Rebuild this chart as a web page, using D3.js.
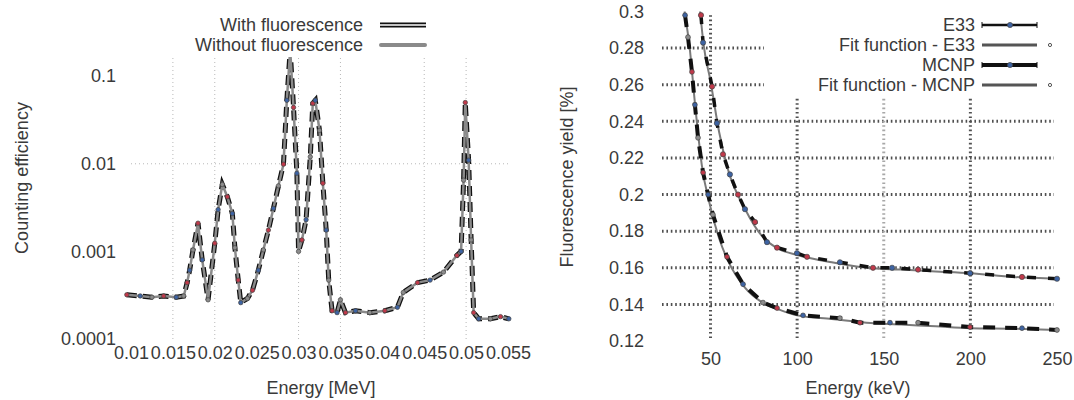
<!DOCTYPE html>
<html>
<head>
<meta charset="utf-8">
<script src="https://cdn.jsdelivr.net/npm/d3@7"></script>
<style>
body { margin: 0; background: #fff; }
svg text { font-family: "Liberation Sans", Arial, sans-serif; fill: #3a3a3a; }
</style>
</head>
<body>
<svg id="vis" width="1074" height="400"></svg>
<script>
// ---- left panel: counting efficiency vs energy (log y)
const energyMeV = [0.0095, 0.0111, 0.0125, 0.0139, 0.0154, 0.0163, 0.0167, 0.0170, 0.0174, 0.0180,
    0.0185, 0.0192, 0.0200, 0.0204, 0.0209, 0.0215, 0.0221, 0.0224, 0.0228, 0.0231,
    0.0239, 0.0245, 0.0252, 0.0258, 0.0264, 0.0270, 0.0276, 0.0282, 0.0286, 0.0290,
    0.0294, 0.0298, 0.0300, 0.0304, 0.0309, 0.0314, 0.0317, 0.0320, 0.0325, 0.0329,
    0.0333, 0.0336, 0.0340, 0.0346, 0.0350, 0.0356, 0.0368, 0.0385, 0.0403, 0.0418,
    0.0425, 0.0442, 0.0457, 0.0473, 0.0489, 0.0494, 0.0497, 0.0499, 0.0503, 0.0506,
    0.0509, 0.0515, 0.0529, 0.0541, 0.0551];
const withFluo = [0.00032, 0.00031, 0.00030, 0.00031, 0.00030, 0.00031, 0.00044, 0.00061, 0.00104, 0.0021,
    0.0008, 0.00028, 0.00124, 0.0030, 0.0058, 0.0042, 0.0027, 0.0011, 0.00047, 0.00026,
    0.00029, 0.00036, 0.00061, 0.00104, 0.00175, 0.0031, 0.0056, 0.0099, 0.053, 0.2,
    0.044, 0.0078, 0.001, 0.00135, 0.0023, 0.012, 0.049, 0.053, 0.024, 0.006,
    0.00175, 0.00047, 0.00021, 0.0002, 0.00028, 0.0002, 0.00021, 0.0002, 0.00021, 0.00023,
    0.00034, 0.00044, 0.00047, 0.00058, 0.0009, 0.001, 0.0065, 0.05, 0.011, 0.00135,
    0.0002, 0.00017, 0.00017, 0.00018, 0.00017];
const withoutFluo = [0.00032, 0.00031, 0.00030, 0.00031, 0.00030, 0.00031, 0.00044, 0.00061, 0.00104, 0.0021,
    0.0008, 0.00028, 0.00124, 0.0030, 0.0058, 0.0042, 0.0027, 0.0011, 0.00047, 0.00026,
    0.00029, 0.00036, 0.00061, 0.00104, 0.00175, 0.0031, 0.0056, 0.0099, 0.053, 0.2,
    0.044, 0.0078, 0.001, 0.00135, 0.0023, 0.012, 0.049, 0.053, 0.024, 0.006,
    0.00175, 0.00047, 0.00021, 0.0002, 0.00028, 0.0002, 0.00021, 0.0002, 0.00021, 0.00023,
    0.00034, 0.00044, 0.00047, 0.00058, 0.0009, 0.001, 0.0065, 0.05, 0.011, 0.00135,
    0.0002, 0.00017, 0.00017, 0.00018, 0.00017];
const leftXTicks = [0.01, 0.015, 0.02, 0.025, 0.03, 0.035, 0.04, 0.045, 0.05, 0.055];
const leftXGrid = [0.015, 0.02, 0.03, 0.035, 0.045, 0.05];
const leftYTicks = [0.0001, 0.001, 0.01, 0.1];
const leftYGrid = [0.01];
const leftSeries = ["With fluorescence", "Without fluorescence"];

// ---- right panel: fluorescence yield vs energy
const e33Energy = [44.5, 45.7, 50.9, 53.7, 57.2, 61.2, 65.9, 69.9, 75.7, 82.6,
    88.4, 99.9, 105.7, 124.7, 143.8, 154.8, 169.8, 199.8, 229.8, 250];
const e33Yield = [0.298, 0.283, 0.259, 0.239, 0.222, 0.211, 0.200, 0.192, 0.185, 0.174,
    0.171, 0.168, 0.166, 0.163, 0.160, 0.160, 0.159, 0.157, 0.155, 0.154];
const e33FitEnergy = [44, 46, 50, 55, 60, 70, 80, 90, 100, 120, 140, 160, 180, 200, 225, 250];
const e33FitYield = [0.300, 0.282, 0.262, 0.234, 0.214, 0.192, 0.177, 0.170, 0.167, 0.163,
    0.160, 0.159, 0.158, 0.157, 0.155, 0.154];
const mcnpEnergy = [35.3, 37, 39.3, 41, 42.8, 45.7, 48.6, 51.4, 59.5, 68.8,
    80.3, 88.4, 103.4, 124.7, 136.3, 153.6, 169.8, 199.8, 229.8, 250];
const mcnpYield = [0.298, 0.286, 0.267, 0.249, 0.231, 0.212, 0.200, 0.189, 0.166, 0.151,
    0.141, 0.138, 0.134, 0.1325, 0.130, 0.130, 0.130, 0.1276, 0.127, 0.126];
const mcnpFitEnergy = [35, 38, 41, 45, 50, 55, 60, 70, 80, 90, 100, 120, 140, 160, 180, 200, 225, 250];
const mcnpFitYield = [0.300, 0.280, 0.250, 0.216, 0.193, 0.176, 0.164, 0.149, 0.141, 0.137,
    0.134, 0.132, 0.130, 0.129, 0.128, 0.127, 0.1267, 0.126];
const rightXTicks = [50, 100, 150, 200, 250];
const rightXGrid = [50, 100, 150, 200];
const rightYTicks = [0.12, 0.14, 0.16, 0.18, 0.2, 0.22, 0.24, 0.26, 0.28, 0.3];
const rightYGrid = [0.14, 0.16, 0.18, 0.2, 0.22, 0.24, 0.26, 0.28];
const rightSeries = ["E33", "Fit function - E33", "MCNP", "Fit function - MCNP"];

const markerColors = ["#c0394a", "#3d63a3", "#8c8c8c"];
const fontSize = "18px";

var svg = d3.select("svg#vis");

function translate(x, y) {
    return "translate(" + String(x) + "," + String(y) + ")";
}

function zip(xs, ys) {
    return xs.map((x, i) => ({x: x, y: ys[i]}));
}

// ================= left chart =================
var xL = d3.scaleLinear().domain([0.01, 0.055]).range([131, 508]);
var yL = d3.scaleLog().domain([0.0001, 0.54]).range([339, 12]);

var gl = svg.append("g").attr("id", "left");

// grid
gl.selectAll("line.vgrid")
    .data(leftXGrid)
    .enter().append("line")
    .attr("x1", d => xL(d)).attr("x2", d => xL(d))
    .attr("y1", yL(0.0001)).attr("y2", 57)
    .attr("stroke", "#b8b8b8").attr("stroke-width", 1)
    .attr("stroke-dasharray", "1,3");
gl.selectAll("line.hgrid")
    .data(leftYGrid)
    .enter().append("line")
    .attr("x1", xL(0.01)).attr("x2", xL(0.055))
    .attr("y1", d => yL(d)).attr("y2", d => yL(d))
    .attr("stroke", "#b8b8b8").attr("stroke-width", 1)
    .attr("stroke-dasharray", "1,3");

// axes (labels only)
var xAxisL = d3.axisBottom(xL).tickValues(leftXTicks).tickFormat(d => String(+d.toFixed(3)))
    .tickSize(0).tickPadding(7);
gl.append("g").attr("transform", translate(0, 339)).call(xAxisL);
var yAxisL = d3.axisLeft(yL).tickValues(leftYTicks).tickFormat(d => String(d))
    .tickSize(0).tickPadding(15);
gl.append("g").attr("transform", translate(131, 0)).call(yAxisL);

// data lines
var lineL = d3.line().x(d => xL(d.x)).y(d => yL(d.y));
gl.append("path")
    .datum(zip(energyMeV, withFluo))
    .attr("d", lineL)
    .attr("fill", "none").attr("stroke", "#111").attr("stroke-width", 5)
    .attr("stroke-dasharray", "10,6");
gl.append("path")
    .datum(zip(energyMeV, withoutFluo))
    .attr("d", lineL)
    .attr("fill", "none").attr("stroke", "#8a8a8a").attr("stroke-width", 2.5);
gl.selectAll("circle.pt")
    .data(zip(energyMeV, withoutFluo))
    .enter().append("circle")
    .attr("cx", d => xL(d.x)).attr("cy", d => yL(d.y))
    .attr("r", 2.2)
    .attr("fill", (d, i) => markerColors[i % 3])
    .attr("stroke", "#444").attr("stroke-width", 0.7);

// legend
var legL = gl.append("g").attr("id", "left-legend");
legL.append("rect").attr("x", 175).attr("y", 13).attr("width", 262).attr("height", 44).attr("fill", "#fff");
legL.selectAll("text")
    .data(leftSeries)
    .enter().append("text")
    .attr("x", 363).attr("y", (d, i) => 25 + i * 20)
    .attr("dy", "0.35em")
    .attr("text-anchor", "end")
    .style("font-size", fontSize)
    .text(d => d);
legL.append("line").attr("x1", 380).attr("x2", 426).attr("y1", 25).attr("y2", 25)
    .attr("stroke", "#111").attr("stroke-width", 5);
legL.append("line").attr("x1", 380).attr("x2", 426).attr("y1", 25).attr("y2", 25)
    .attr("stroke", "#fff").attr("stroke-width", 1.4);
legL.append("line").attr("x1", 381).attr("x2", 425).attr("y1", 45).attr("y2", 45)
    .attr("stroke", "#8a8a8a").attr("stroke-width", 4).attr("stroke-linecap", "round");

// axis titles
gl.append("text")
    .attr("transform", translate(22, 178) + " rotate(-90)")
    .attr("text-anchor", "middle").attr("dy", "0.35em")
    .style("font-size", fontSize)
    .text("Counting efficiency");
gl.append("text")
    .attr("x", 321).attr("y", 388)
    .attr("text-anchor", "middle").attr("dy", "0.35em")
    .style("font-size", fontSize)
    .text("Energy [MeV]");

// ================= right chart =================
var xR = d3.scaleLinear().domain([22, 250]).range([662, 1057]);
var yR = d3.scaleLinear().domain([0.12, 0.3]).range([341, 11.5]);

var gr = svg.append("g").attr("id", "right");

gr.selectAll("line.hgrid")
    .data(rightYGrid)
    .enter().append("line")
    .attr("x1", xR(22)).attr("x2", 1054)
    .attr("y1", d => yR(d)).attr("y2", d => yR(d))
    .attr("stroke", "#505050").attr("stroke-width", 3)
    .attr("stroke-dasharray", "1.6,2.8");
gr.selectAll("line.vgrid")
    .data(rightXGrid)
    .enter().append("line")
    .attr("x1", d => xR(d)).attr("x2", d => xR(d))
    .attr("y1", 338).attr("y2", 13)
    .attr("stroke", d => d === 150 ? "#a8a8a8" : "#505050").attr("stroke-width", 3)
    .attr("stroke-dasharray", "1.6,2.8");

var xAxisR = d3.axisBottom(xR).tickValues(rightXTicks).tickFormat(d3.format("d"))
    .tickSize(0).tickPadding(11);
gr.append("g").attr("transform", translate(0, 341)).call(xAxisR);
var yAxisR = d3.axisLeft(yR).tickValues(rightYTicks).tickFormat(d => String(+d.toFixed(2)))
    .tickSize(0).tickPadding(18);
gr.append("g").attr("transform", translate(662, 0)).call(yAxisR);

// legend box hides the grid behind it
var legR = gr.append("g").attr("id", "right-legend");
legR.append("rect").attr("x", 764).attr("y", 0).attr("width", 310).attr("height", 97).attr("fill", "#fff");

var lineR = d3.line().x(d => xR(d.x)).y(d => yR(d.y));
var fitLine = d3.line().x(d => xR(d.x)).y(d => yR(d.y)).curve(d3.curveMonotoneX);

gr.append("path").datum(zip(e33FitEnergy, e33FitYield)).attr("d", fitLine)
    .attr("fill", "none").attr("stroke", "#7a7a7a").attr("stroke-width", 2);
gr.append("path").datum(zip(mcnpFitEnergy, mcnpFitYield)).attr("d", fitLine)
    .attr("fill", "none").attr("stroke", "#7a7a7a").attr("stroke-width", 2);
gr.append("path").datum(zip(e33Energy, e33Yield)).attr("d", lineR)
    .attr("fill", "none").attr("stroke", "#111").attr("stroke-width", 3.5)
    .attr("stroke-dasharray", "9,12");
gr.append("path").datum(zip(mcnpEnergy, mcnpYield)).attr("d", lineR)
    .attr("fill", "none").attr("stroke", "#111").attr("stroke-width", 4)
    .attr("stroke-dasharray", "12,10");
gr.selectAll("circle.e33")
    .data(zip(e33Energy, e33Yield))
    .enter().append("circle")
    .attr("cx", d => xR(d.x)).attr("cy", d => yR(d.y)).attr("r", 2.6)
    .attr("fill", (d, i) => markerColors[i % 2]).attr("stroke", "#444").attr("stroke-width", 0.7);
gr.selectAll("circle.mcnp")
    .data(zip(mcnpEnergy, mcnpYield))
    .enter().append("circle")
    .attr("cx", d => xR(d.x)).attr("cy", d => yR(d.y)).attr("r", 2.4)
    .attr("fill", (d, i) => markerColors[(i + 1) % 3]).attr("stroke", "#444").attr("stroke-width", 0.7);

legR.selectAll("text")
    .data(rightSeries)
    .enter().append("text")
    .attr("x", 975).attr("y", (d, i) => 25 + i * 20)
    .attr("dy", "0.35em")
    .attr("text-anchor", "end")
    .style("font-size", fontSize)
    .text(d => d);
// legend samples
[0, 2].forEach(function(i) {
    let y = 25 + i * 20;
    legR.append("line").attr("x1", 982).attr("x2", 1037).attr("y1", y).attr("y2", y)
        .attr("stroke", "#111").attr("stroke-width", i === 0 ? 2.5 : 4);
    legR.append("line").attr("x1", 982).attr("x2", 982).attr("y1", y - 3).attr("y2", y + 3)
        .attr("stroke", "#111").attr("stroke-width", 1);
    legR.append("line").attr("x1", 1037).attr("x2", 1037).attr("y1", y - 3).attr("y2", y + 3)
        .attr("stroke", "#111").attr("stroke-width", 1);
    legR.append("circle").attr("cx", 1010).attr("cy", y).attr("r", 2.6)
        .attr("fill", markerColors[1]).attr("stroke", "#444").attr("stroke-width", 0.7);
});
[1, 3].forEach(function(i) {
    let y = 25 + i * 20;
    legR.append("line").attr("x1", 982).attr("x2", 1037).attr("y1", y).attr("y2", y)
        .attr("stroke", "#555").attr("stroke-width", 3);
    legR.append("circle").attr("cx", 1050).attr("cy", y).attr("r", 1.6)
        .attr("fill", "none").attr("stroke", "#555").attr("stroke-width", 1);
});

gr.append("text")
    .attr("transform", translate(567, 177) + " rotate(-90)")
    .attr("text-anchor", "middle").attr("dy", "0.35em")
    .style("font-size", fontSize)
    .text("Fluorescence yield [%]");
gr.append("text")
    .attr("x", 858).attr("y", 388)
    .attr("text-anchor", "middle").attr("dy", "0.35em")
    .style("font-size", fontSize)
    .text("Energy (keV)");

// axis label styling
svg.selectAll(".tick text")
    .style("font-size", fontSize)
    .style("font-family", "\"Liberation Sans\", Arial, sans-serif")
    .attr("fill", "#3a3a3a");
svg.selectAll(".domain").remove();
</script>
</body>
</html>
